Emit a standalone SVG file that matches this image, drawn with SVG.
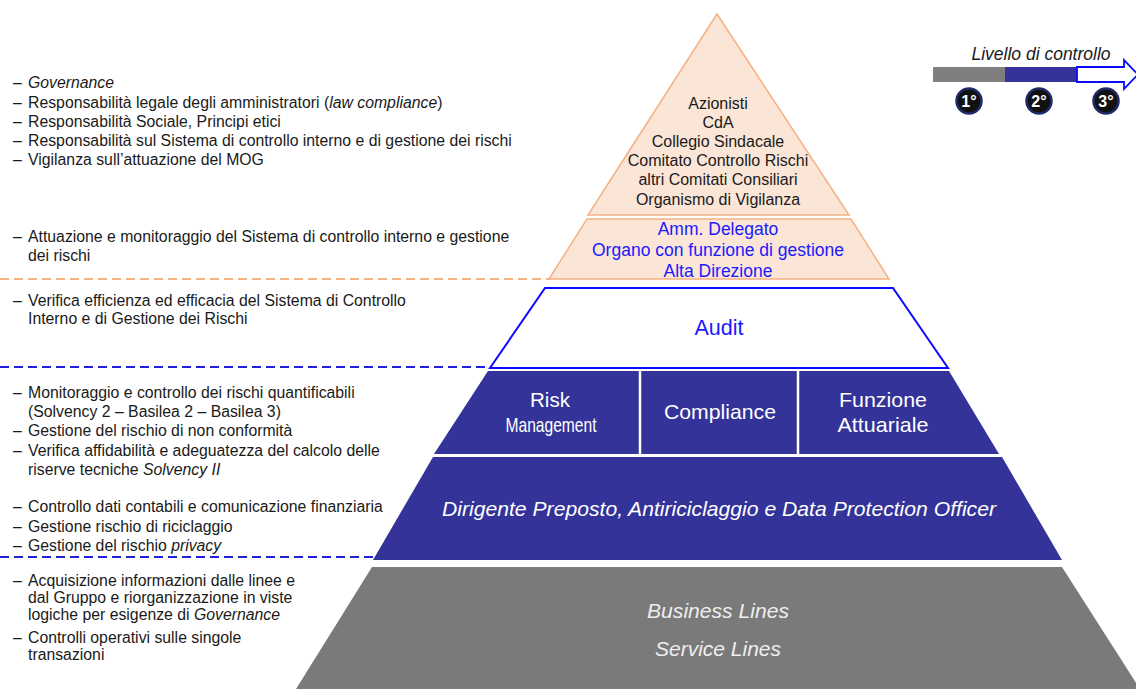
<svg xmlns="http://www.w3.org/2000/svg" width="1136" height="689" viewBox="0 0 1136 689">
<defs>
<style>
.lt{font-family:"Liberation Sans",Arial,sans-serif;font-size:15.8px;fill:#1a1a1a}
.it{font-style:italic}
.pk{font-family:"Liberation Sans",Arial,sans-serif;font-size:16px;fill:#1a1a1a;text-anchor:middle}
.pb{font-family:"Liberation Sans",Arial,sans-serif;font-size:17.5px;fill:#1a1aff;text-anchor:middle}
.pw{font-family:"Liberation Sans Narrow","Liberation Sans",Arial,sans-serif;font-size:21px;fill:#ffffff;text-anchor:middle}
.beige{fill:#fbe5d6;stroke:#f4b183;stroke-width:1.5}
.navy{fill:#333399}
.dash{fill:none;stroke-width:1.8;stroke-dasharray:9 5}
.circ{fill:#111111;stroke:#1f2a6b;stroke-width:2.5}
.ct{font-family:"Liberation Sans",Arial,sans-serif;font-size:16px;font-weight:bold;fill:#ffffff;text-anchor:middle}
</style>
</defs>

<g id="connectors">
<line class="dash" x1="0" y1="279" x2="550" y2="279" stroke="#f4b183"/>
<line class="dash" x1="0" y1="367" x2="490" y2="367" stroke="#1f1fdd"/>
<line class="dash" x1="0" y1="557" x2="373" y2="557" stroke="#1f1fdd"/>
</g>

<g id="vertice">
<polygon class="beige" points="717,14 849,215 588,215"/>
<text class="pk" x="718" y="109">Azionisti</text>
<text class="pk" x="718" y="128">CdA</text>
<text class="pk" x="718" y="147">Collegio Sindacale</text>
<text class="pk" x="718" y="166">Comitato Controllo Rischi</text>
<text class="pk" x="718" y="185">altri Comitati Consiliari</text>
<text class="pk" x="718" y="205">Organismo di Vigilanza</text>
</g>

<g id="direzione">
<polygon class="beige" points="587,219 851,219 889,279 549,279"/>
<text class="pb" x="718" y="235">Amm.  Delegato</text>
<text class="pb" x="718" y="256">Organo con funzione di gestione</text>
<text class="pb" x="718" y="277">Alta Direzione</text>
</g>

<g id="audit">
<polygon points="545,288 893,288 948,368 490,368" fill="#ffffff" stroke="#0a0aff" stroke-width="2"/>
<text x="719" y="335" text-anchor="middle" style="font-family:'Liberation Sans',Arial,sans-serif;font-size:21.5px;fill:#1a1aff">Audit</text>
</g>

<g id="secondo-livello">
<polygon class="navy" points="488,371 949,371 999,454 434,454"/>
<line x1="640" y1="371" x2="640" y2="454" stroke="#ffffff" stroke-width="2.5"/>
<line x1="798" y1="371" x2="798" y2="454" stroke="#ffffff" stroke-width="2.5"/>
</g>

<g id="risk-management">
<text class="pw" x="550" y="407" textLength="40" lengthAdjust="spacingAndGlyphs">Risk</text>
<text class="pw" x="551" y="432" textLength="91" lengthAdjust="spacingAndGlyphs">Management</text>
</g>

<g id="compliance">
<text class="pw" x="720" y="419" textLength="112" lengthAdjust="spacingAndGlyphs">Compliance</text>
</g>

<g id="funzione-attuariale">
<text class="pw" x="883" y="407" textLength="88" lengthAdjust="spacingAndGlyphs">Funzione</text>
<text class="pw" x="883" y="432" textLength="91" lengthAdjust="spacingAndGlyphs">Attuariale</text>
</g>

<g id="dirigente-preposto">
<polygon class="navy" points="433,457 1002,457 1062,560 373,560"/>
<text class="pw it" x="719" y="516" textLength="554" lengthAdjust="spacingAndGlyphs">Dirigente Preposto, Antiriciclaggio e Data Protection Officer</text>
</g>

<g id="linee">
<polygon points="372,567 1062,567 1140,689 296,689" fill="#7a7a7a"/>
<text class="pw it" x="718" y="618" textLength="142" lengthAdjust="spacingAndGlyphs" style="fill:#eeeeee">Business Lines</text>
<text class="pw it" x="718" y="656" textLength="126" lengthAdjust="spacingAndGlyphs" style="fill:#eeeeee">Service Lines</text>
</g>

<g id="legenda">
<text x="1041" y="60" text-anchor="middle" class="it" style="font-family:'Liberation Sans',Arial,sans-serif;font-size:17.5px;fill:#1a1a1a">Livello di controllo</text>
<rect x="933" y="67" width="72" height="15" fill="#7f7f7f"/>
<rect x="1005" y="67" width="72" height="15" fill="#333399"/>
<polygon points="1077,67 1124,67 1124,60 1138,74.5 1124,89 1124,82 1077,82" fill="#ffffff" stroke="#0a0aff" stroke-width="1.8"/>
<circle class="circ" cx="969" cy="101" r="12.5"/>
<text class="ct" x="969" y="107">1°</text>
<circle class="circ" cx="1039" cy="101" r="12.5"/>
<text class="ct" x="1039" y="107">2°</text>
<circle class="circ" cx="1106" cy="101" r="12.5"/>
<text class="ct" x="1106" y="107">3°</text>
</g>

<g id="testi-sinistra">
<text class="lt" y="88"><tspan x="13">–</tspan><tspan x="28" class="it">Governance</tspan></text>
<text class="lt" y="108"><tspan x="13">–</tspan><tspan x="28">Responsabilità legale degli amministratori (<tspan class="it">law compliance</tspan>)</tspan></text>
<text class="lt" y="127"><tspan x="13">–</tspan><tspan x="28">Responsabilità Sociale, Principi etici</tspan></text>
<text class="lt" y="146"><tspan x="13">–</tspan><tspan x="28">Responsabilità sul Sistema di controllo interno e di gestione dei rischi</tspan></text>
<text class="lt" y="165"><tspan x="13">–</tspan><tspan x="28">Vigilanza sull’attuazione  del MOG</tspan></text>

<text class="lt" y="242"><tspan x="13">–</tspan><tspan x="28">Attuazione e monitoraggio del Sistema di controllo interno e gestione</tspan></text>
<text class="lt" x="28" y="261">dei rischi</text>

<text class="lt" y="306"><tspan x="13">–</tspan><tspan x="28">Verifica efficienza ed efficacia del Sistema di Controllo</tspan></text>
<text class="lt" x="28" y="324">Interno e di Gestione dei Rischi</text>

<text class="lt" y="398"><tspan x="13">–</tspan><tspan x="28">Monitoraggio e controllo dei rischi quantificabili</tspan></text>
<text class="lt" x="28" y="417">(Solvency 2 – Basilea 2 – Basilea 3)</text>
<text class="lt" y="436"><tspan x="13">–</tspan><tspan x="28">Gestione del rischio di non conformità</tspan></text>
<text class="lt" y="456"><tspan x="13">–</tspan><tspan x="28">Verifica affidabilità e adeguatezza del calcolo delle</tspan></text>
<text class="lt" x="28" y="475">riserve tecniche <tspan class="it">Solvency II</tspan></text>

<text class="lt" y="512"><tspan x="13">–</tspan><tspan x="28">Controllo dati contabili e comunicazione finanziaria</tspan></text>
<text class="lt" y="532"><tspan x="13">–</tspan><tspan x="28">Gestione rischio di riciclaggio</tspan></text>
<text class="lt" y="551"><tspan x="13">–</tspan><tspan x="28">Gestione del rischio <tspan class="it">privacy</tspan></tspan></text>

<text class="lt" y="586"><tspan x="13">–</tspan><tspan x="28">Acquisizione informazioni dalle linee e</tspan></text>
<text class="lt" x="28" y="603">dal Gruppo e riorganizzazione in viste</text>
<text class="lt" x="28" y="620">logiche per esigenze di <tspan class="it">Governance</tspan></text>
<text class="lt" y="643"><tspan x="13">–</tspan><tspan x="28">Controlli operativi sulle singole</tspan></text>
<text class="lt" x="28" y="660">transazioni</text>
</g>
</svg>
